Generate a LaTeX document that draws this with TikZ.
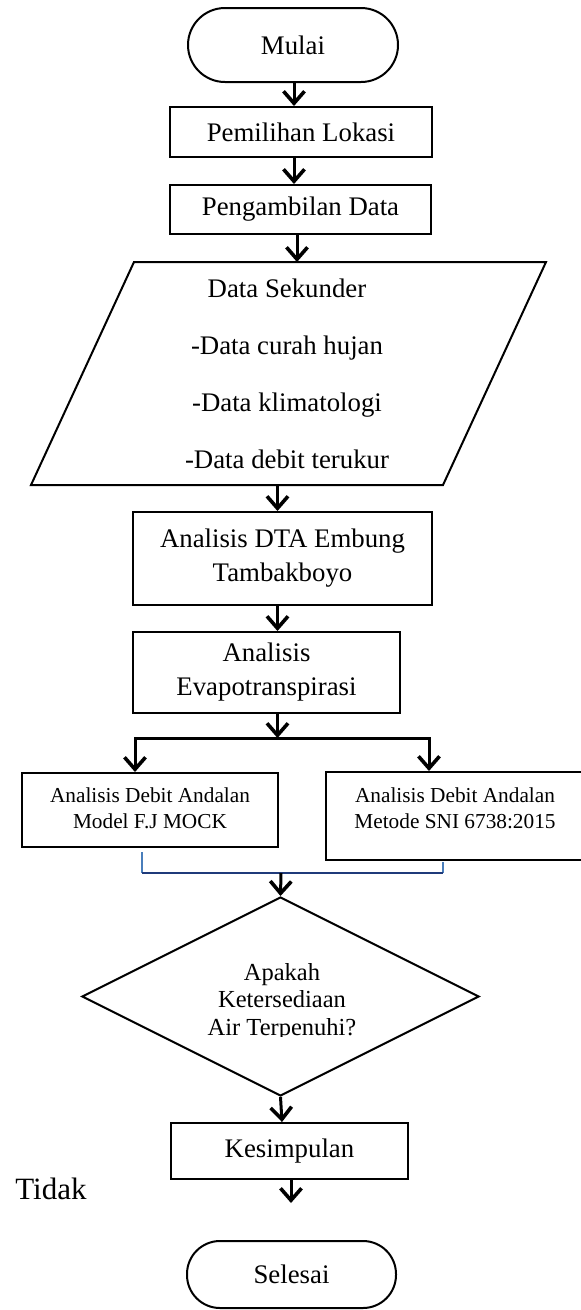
\documentclass[tikz,border=0pt]{standalone}
\usepackage{fontspec}
\setmainfont{Liberation Serif}
\usetikzlibrary{arrows.meta,shapes.geometric,calc}

\definecolor{bracketlight}{HTML}{4A7EBB}
\definecolor{bracketdark}{HTML}{1F3A7A}

\tikzset{
  base/.style={inner sep=0pt, align=center, font=\fontsize{26.8}{34}\selectfont},
  procbox/.style={base, draw, line width=2pt},
  termbox/.style={base, draw, line width=2pt, rounded corners=#1},
  emptybox/.style={draw, line width=2pt, inner sep=0pt},
  smalltext/.style={inner sep=0pt, align=center, font=\fontsize{21.3}{26}\selectfont},
  flow/.style={line width=3pt, -{Straight Barb[length=12pt,width=21pt,line width=3.6pt]}},
}

\begin{document}
\begin{tikzpicture}[x=1pt,y=-1pt]
  \useasboundingbox (0,0) rectangle (581,1310);
  \clip (0,0) rectangle (581,1310);

  % start / end terminators
  \node[termbox=37pt, minimum width=210pt, minimum height=74pt] (mulai) at (293,45) {Mulai};
  \node[termbox=33pt, minimum width=209pt, minimum height=67pt] (selesai) at (291.5,1274.5) {Selesai};

  % first process steps
  \node[procbox, minimum width=262pt, minimum height=50pt] (lokasi) at (301,132) {Pemilihan Lokasi};
  \node[procbox, minimum width=261pt, minimum height=49pt] (ambil) at (300.5,209.5) {Pengambilan Data};

  % secondary data (input parallelogram)
  \coordinate (pTL) at (134,262);
  \coordinate (pTR) at (546,262);
  \coordinate (pBR) at (443,485);
  \coordinate (pBL) at (31,485);
  \draw[line width=2pt, line join=miter] (pTL) -- (pTR) -- (pBR) -- (pBL) -- cycle;
  \node[base, font=\fontsize{26.8}{57}\selectfont] (sekunder) at (287,373.5)
    {Data Sekunder\\-Data curah hujan\\-Data klimatologi\\-Data debit terukur};

  \node[procbox, minimum width=299pt, minimum height=93pt] (dta) at (282.5,558.5)
    {Analisis DTA Embung\\Tambakboyo};
  \node[procbox, minimum width=267pt, minimum height=81pt] (evapo) at (266.5,672.5)
    {Analisis\\Evapotranspirasi};

  % two discharge analyses
  \node[emptybox, minimum width=256pt, minimum height=74pt] (mock) at (150,810) {};
  \node[smalltext] (mocktxt) at (150,808) {Analisis Debit Andalan\\Model F.J MOCK};
  \node[emptybox, minimum width=260pt, minimum height=88pt] (sni) at (456,816) {};
  \node[smalltext] (snitxt) at (455,808.5) {Analisis Debit Andalan\\Metode SNI 6738:2015};

  % decision
  \node[draw, shape=diamond, line width=2pt, inner sep=0pt, minimum width=397pt,
        minimum height=199pt, aspect=2] (cek) at (280.5,996.5) {};
  \begin{scope}
    \clip (150,940) rectangle (420,1036);
    \node[inner sep=0pt, align=center, font=\fontsize{24.5}{27.5}\selectfont,
          anchor=base] (cektxt) at (282,1035) {Apakah\\Ketersediaan\\Air Terpenuhi?};
  \end{scope}

  \node[procbox, minimum width=237pt, minimum height=56pt] (simpul) at (289.5,1151) {Kesimpulan};

  \node[inner sep=0pt, font=\fontsize{31}{36}\selectfont, anchor=base] (tidak) at (51,1199) {Tidak};

  % connectors
  \coordinate (xtop) at (294,0);
  \draw[flow] (mulai.south -| xtop) -- (xtop |- lokasi.north);
  \draw[flow] (lokasi.south -| xtop) -- (xtop |- ambil.north);
  \coordinate (xpar) at (297,0);
  \draw[flow] (ambil.south -| xpar) -- (xpar |- pTL);
  \coordinate (xmid) at (277.5,0);
  \draw[flow] (pBL -| xmid) -- (xmid |- dta.north);
  \draw[flow] (dta.south -| xmid) -- (xmid |- evapo.north);

  % split into the two analyses
  \coordinate (split) at (277.5,738);
  \coordinate (splitL) at (135,738);
  \coordinate (splitR) at (429,738);
  \draw[flow] (evapo.south -| split) -- (split);
  \draw[line width=3pt, line cap=rect] (splitL) -- (splitR);
  \draw[flow] (splitL) -- (splitL |- mock.north);
  \draw[flow] (splitR) -- (splitR |- sni.north);

  % join bracket below the analyses
  \coordinate (jL) at (142,852);
  \coordinate (jR) at (443,862);
  \coordinate (jLb) at (142,873);
  \coordinate (jRb) at (443,873);
  \coordinate (join) at (281,873);
  \draw[bracketlight, line width=1.4pt] (jL) -- (jLb);
  \draw[bracketlight, line width=1.4pt] (jR) -- (jRb);
  \draw[bracketdark, line width=1.8pt] (jLb) -- (jRb);
  \draw[flow] (join) -- (cek.north);

  \coordinate (xlow) at (282,0);
  \draw[flow] (cek.south) -- (xlow |- simpul.north);
  \coordinate (endtip) at (291,1203);
  \draw[flow] (simpul.south -| endtip) -- (endtip);
\end{tikzpicture}
\end{document}
